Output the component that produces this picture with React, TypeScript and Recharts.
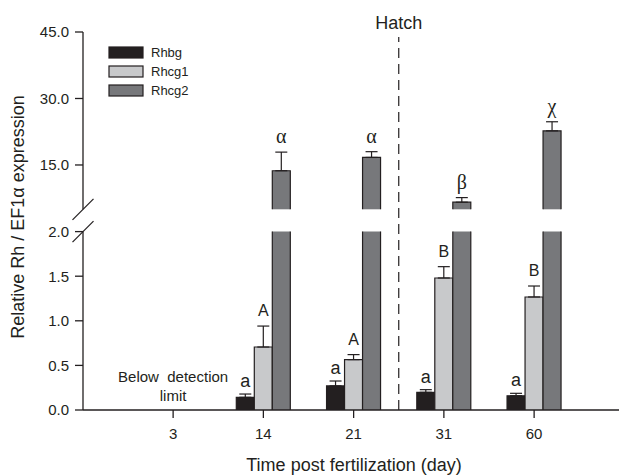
import React from 'react';
import {
  BarChart,
  Bar,
  XAxis,
  YAxis,
  ErrorBar,
  LabelList,
  ReferenceLine,
  ReferenceDot,
  Legend,
  ComposedChart,
} from 'recharts';

// ---------- data ----------
const CATEGORIES = ['3', '14', '21', '31', '60'];
const RHBG: (number | null)[] = [null, 0.142, 0.27, 0.198, 0.16];
const RHBG_ERR: (number | null)[] = [null, 0.037, 0.055, 0.03, 0.027];
const RHCG1: (number | null)[] = [null, 0.706, 0.565, 1.48, 1.267];
const RHCG1_ERR: (number | null)[] = [null, 0.235, 0.056, 0.127, 0.123];
const RHCG2: (number | null)[] = [null, 13.7, 16.7, 6.6, 22.7];
const RHCG2_ERR: (number | null)[] = [null, 4.2, 1.3, 1.04, 2.05];
const RHBG_LETTERS = [null, 'a', 'a', 'a', 'a'];
const RHCG1_LETTERS = [null, 'A', 'A', 'B', 'B'];
const RHCG2_LETTERS = [null, 'α', 'α', 'β', 'χ'];
const LOWER_DOMAIN: [number, number] = [0, 2];
const LOWER_TICKS = [0, 0.5, 1, 1.5, 2];
const UPPER_DOMAIN: [number, number] = [5, 45];
const UPPER_TICKS = [15, 30, 45];
const HATCH_AFTER_DAY = '21'; // hatch line drawn at the end of this day's band
const NO_DATA_DAY = '3';
const SERIES_NAMES = ['Rhbg', 'Rhcg1', 'Rhcg2'];

// ---------- style ----------
const INK = '#231f20';
const FILLS = ['#231f20', '#c8c9cb', '#77787b'];
const SANS = '"Liberation Sans", Arial, Helvetica, sans-serif';
const SERIF = '"Liberation Serif", "Times New Roman", serif';
const W = 619;
const H = 476;
const X_PAD = { left: 45, right: 39.75 };

const errPair = (e: number | null) => (e == null ? null : [0, e]);

const lowerData = CATEGORIES.map((day, i) => ({
  day,
  i,
  rhbg: RHBG[i],
  rhbgErr: errPair(RHBG_ERR[i]),
  rhcg1: RHCG1[i],
  rhcg1Err: errPair(RHCG1_ERR[i]),
  rhcg2: RHCG2[i],
}));

const upperData = CATEGORIES.map((day, i) => ({
  day,
  i,
  rhbg: null,
  rhcg1: null,
  rhcg2: RHCG2[i],
  rhcg2Err: errPair(RHCG2_ERR[i]),
}));

const OpenBar = (props: any) => {
  const { x, y, width, height, fill } = props;
  if (x == null || y == null || !height || !width) return null;
  return (
    <g>
      <rect x={x} y={y} width={width} height={height} fill={fill} stroke="none" />
      <path
        d={`M${x},${y + height}V${y}H${x + width}V${y + height}`}
        fill="none"
        stroke={INK}
        strokeWidth={1.2}
      />
    </g>
  );
};

// LabelList value is the original row index ("i" field)
const makeLetter =
  (values: (number | null)[], errors: (number | null)[], letters: (string | null)[], base: number, serif: boolean) =>
  (props: any) => {
    const vb = props.viewBox || props;
    const index = Number(props.value);
    if (!Number.isFinite(index)) return null;
    const v = values[index];
    const e = errors[index];
    const letter = letters[index];
    if (v == null || e == null || !letter) return null;
    const x = vb.x;
    const y = vb.y;
    const width = vb.width;
    const height = vb.height;
    if (x == null || !height) return null;
    const pxPerUnit = height / (v - base);
    const top = y - e * pxPerUnit;
    const lower = letter === 'a';
    const gap = serif ? 9 : lower ? 7 : 10;
    return (
      <text
        x={x + width / 2}
        y={top - gap}
        textAnchor="middle"
        fill={INK}
        fontFamily={serif ? SERIF : SANS}
        fontSize={serif ? 20 : lower ? 18 : 16}
      >
        {letter}
      </text>
    );
  };

const BreakMark = (atBottom: boolean) => (props: any) => {
  const vb = props.viewBox;
  if (!vb) return null;
  const cx = vb.x + vb.width;
  const cy = atBottom ? vb.y + vb.height : vb.y;
  return (
    <line x1={cx - 10.5} y1={cy + 10.5} x2={cx + 10.5} y2={cy - 10.5} stroke={INK} strokeWidth={1.2} />
  );
};

const XTitle = (props: any) => {
  const vb = props.viewBox;
  if (!vb) return null;
  return (
    <text x={vb.x + vb.width / 2 + 3} y={vb.y + 61} textAnchor="middle" fill={INK} fontFamily={SANS} fontSize={18}>
      Time post fertilization (day)
    </text>
  );
};

const YTitle = (props: any) => {
  const vb = props.viewBox;
  if (!vb) return null;
  const x = vb.x + 24;
  const y = vb.y + vb.height / 2 - 6.5;
  return (
    <text x={x} y={y} transform={`rotate(-90 ${x} ${y})`} textAnchor="middle" fill={INK} fontFamily={SANS} fontSize={18}>
      Relative Rh / EF1α expression
    </text>
  );
};

const LegendBox = (props: any) => {
  const payload = props.payload || [];
  return (
    <div style={{ fontFamily: SANS, fontSize: 13, color: INK, lineHeight: '13px' }}>
      {payload.map((p: any, i: number) => (
        <div key={i} style={{ display: 'flex', alignItems: 'center', height: 19, overflow: 'hidden' }}>
          <svg width={37} height={13} style={{ display: 'block' }}>
            <rect x={1} y={1} width={34} height={11} fill={p.color} stroke={INK} strokeWidth={1.2} />
          </svg>
          <span style={{ marginLeft: 6, lineHeight: '13px' }}>{p.value}</span>
        </div>
      ))}
    </div>
  );
};

const fmt = (v: number) => v.toFixed(1);
const tickStyle = { fill: INK, fontSize: 15, fontFamily: SANS };
const axisLine = { stroke: INK, strokeWidth: 1.3 };

const BelowLimit = (p: any) => {
  if (p.cx == null) return null;
  return (
    <text x={p.cx} y={p.cy} textAnchor="middle" fill={INK} fontFamily={SANS} fontSize={15} style={{ whiteSpace: 'pre' }}>
      <tspan x={p.cx} dy={-27.7}>Below  detection</tspan>
      <tspan x={p.cx} dy={18.7}>limit</tspan>
    </text>
  );
};

export default function App() {
  const layer: React.CSSProperties = { position: 'absolute', left: 0, top: 0 };
  return (
    <div style={{ position: 'absolute', left: 0, top: 0, width: W, height: H, overflow: 'hidden', background: '#fff' }}>
      {/* hatch line + y title */}
      <div style={layer}>
        <ComposedChart width={W} height={H} data={lowerData} margin={{ top: 37, right: 0, bottom: 66, left: 0 }}>
          <XAxis dataKey="day" padding={X_PAD} hide />
          <YAxis
            width={83}
            domain={LOWER_DOMAIN}
            tick={false}
            axisLine={false}
            tickLine={false}
            label={{ content: YTitle } as any}
          />
          <Bar dataKey="rhbg" fill="none" isAnimationActive={false} shape={() => null} legendType="none" />
          <ReferenceLine
            x={HATCH_AFTER_DAY}
            position="end"
            stroke={INK}
            strokeWidth={1.2}
            strokeDasharray="10 6"
            ifOverflow="visible"
            label={{ value: 'Hatch', position: 'top', offset: 8, fill: INK, fontSize: 18, fontFamily: SANS } as any}
          />
        </ComposedChart>
      </div>

      {/* lower panel 0 - 2 */}
      <div style={layer}>
        <BarChart
          width={W}
          height={H}
          data={lowerData}
          margin={{ top: 231.6, right: 0, bottom: 4, left: 0 }}
          barCategoryGap="20%"
          barGap={0}
        >
          <XAxis
            dataKey="day"
            padding={X_PAD}
            height={62}
            interval={0}
            tickSize={8}
            tickMargin={10}
            axisLine={axisLine}
            tickLine={axisLine}
            tick={tickStyle}
            label={{ content: XTitle } as any}
          />
          <YAxis
            width={83}
            domain={LOWER_DOMAIN}
            ticks={LOWER_TICKS}
            allowDataOverflow
            interval={0}
            tickFormatter={fmt}
            tickSize={8}
            tickMargin={6}
            axisLine={axisLine}
            tickLine={axisLine}
            tick={tickStyle}
            label={{ content: BreakMark(false) } as any}
          />
          <Bar dataKey="rhbg" name={SERIES_NAMES[0]} fill={FILLS[0]} shape={OpenBar} isAnimationActive={false}>
            <ErrorBar dataKey="rhbgErr" width={6} stroke={INK} strokeWidth={1.2} direction="y" isAnimationActive={false} />
            <LabelList dataKey="i" content={makeLetter(RHBG, RHBG_ERR, RHBG_LETTERS, 0, false)} />
          </Bar>
          <Bar dataKey="rhcg1" name={SERIES_NAMES[1]} fill={FILLS[1]} shape={OpenBar} isAnimationActive={false}>
            <ErrorBar dataKey="rhcg1Err" width={6} stroke={INK} strokeWidth={1.2} direction="y" isAnimationActive={false} />
            <LabelList dataKey="i" content={makeLetter(RHCG1, RHCG1_ERR, RHCG1_LETTERS, 0, false)} />
          </Bar>
          <Bar dataKey="rhcg2" name={SERIES_NAMES[2]} fill={FILLS[2]} shape={OpenBar} isAnimationActive={false} />
          <ReferenceDot x={NO_DATA_DAY} y={0} r={0} shape={BelowLimit} />
        </BarChart>
      </div>

      {/* upper panel 5 - 45 */}
      <div style={layer}>
        <BarChart
          width={W}
          height={H}
          data={upperData}
          margin={{ top: 32, right: 0, bottom: H - 209.3, left: 0 }}
          barCategoryGap="20%"
          barGap={0}
        >
          <XAxis dataKey="day" padding={X_PAD} hide />
          <YAxis
            width={83}
            domain={UPPER_DOMAIN}
            ticks={UPPER_TICKS}
            interval={0}
            tickFormatter={fmt}
            tickSize={8}
            tickMargin={6}
            axisLine={axisLine}
            tickLine={axisLine}
            tick={tickStyle}
            label={{ content: BreakMark(true) } as any}
          />
          <Legend
            layout="vertical"
            align="center"
            verticalAlign="middle"
            content={LegendBox}
            wrapperStyle={{ left: 108, top: 43, width: 'auto', right: 'auto', bottom: 'auto' }}
          />
          <Bar dataKey="rhbg" name={SERIES_NAMES[0]} fill={FILLS[0]} shape={OpenBar} isAnimationActive={false} />
          <Bar dataKey="rhcg1" name={SERIES_NAMES[1]} fill={FILLS[1]} shape={OpenBar} isAnimationActive={false} />
          <Bar dataKey="rhcg2" name={SERIES_NAMES[2]} fill={FILLS[2]} shape={OpenBar} isAnimationActive={false}>
            <ErrorBar dataKey="rhcg2Err" width={6} stroke={INK} strokeWidth={1.2} direction="y" isAnimationActive={false} />
            <LabelList dataKey="i" content={makeLetter(RHCG2, RHCG2_ERR, RHCG2_LETTERS, UPPER_DOMAIN[0], true)} />
          </Bar>
        </BarChart>
      </div>
    </div>
  );
}
